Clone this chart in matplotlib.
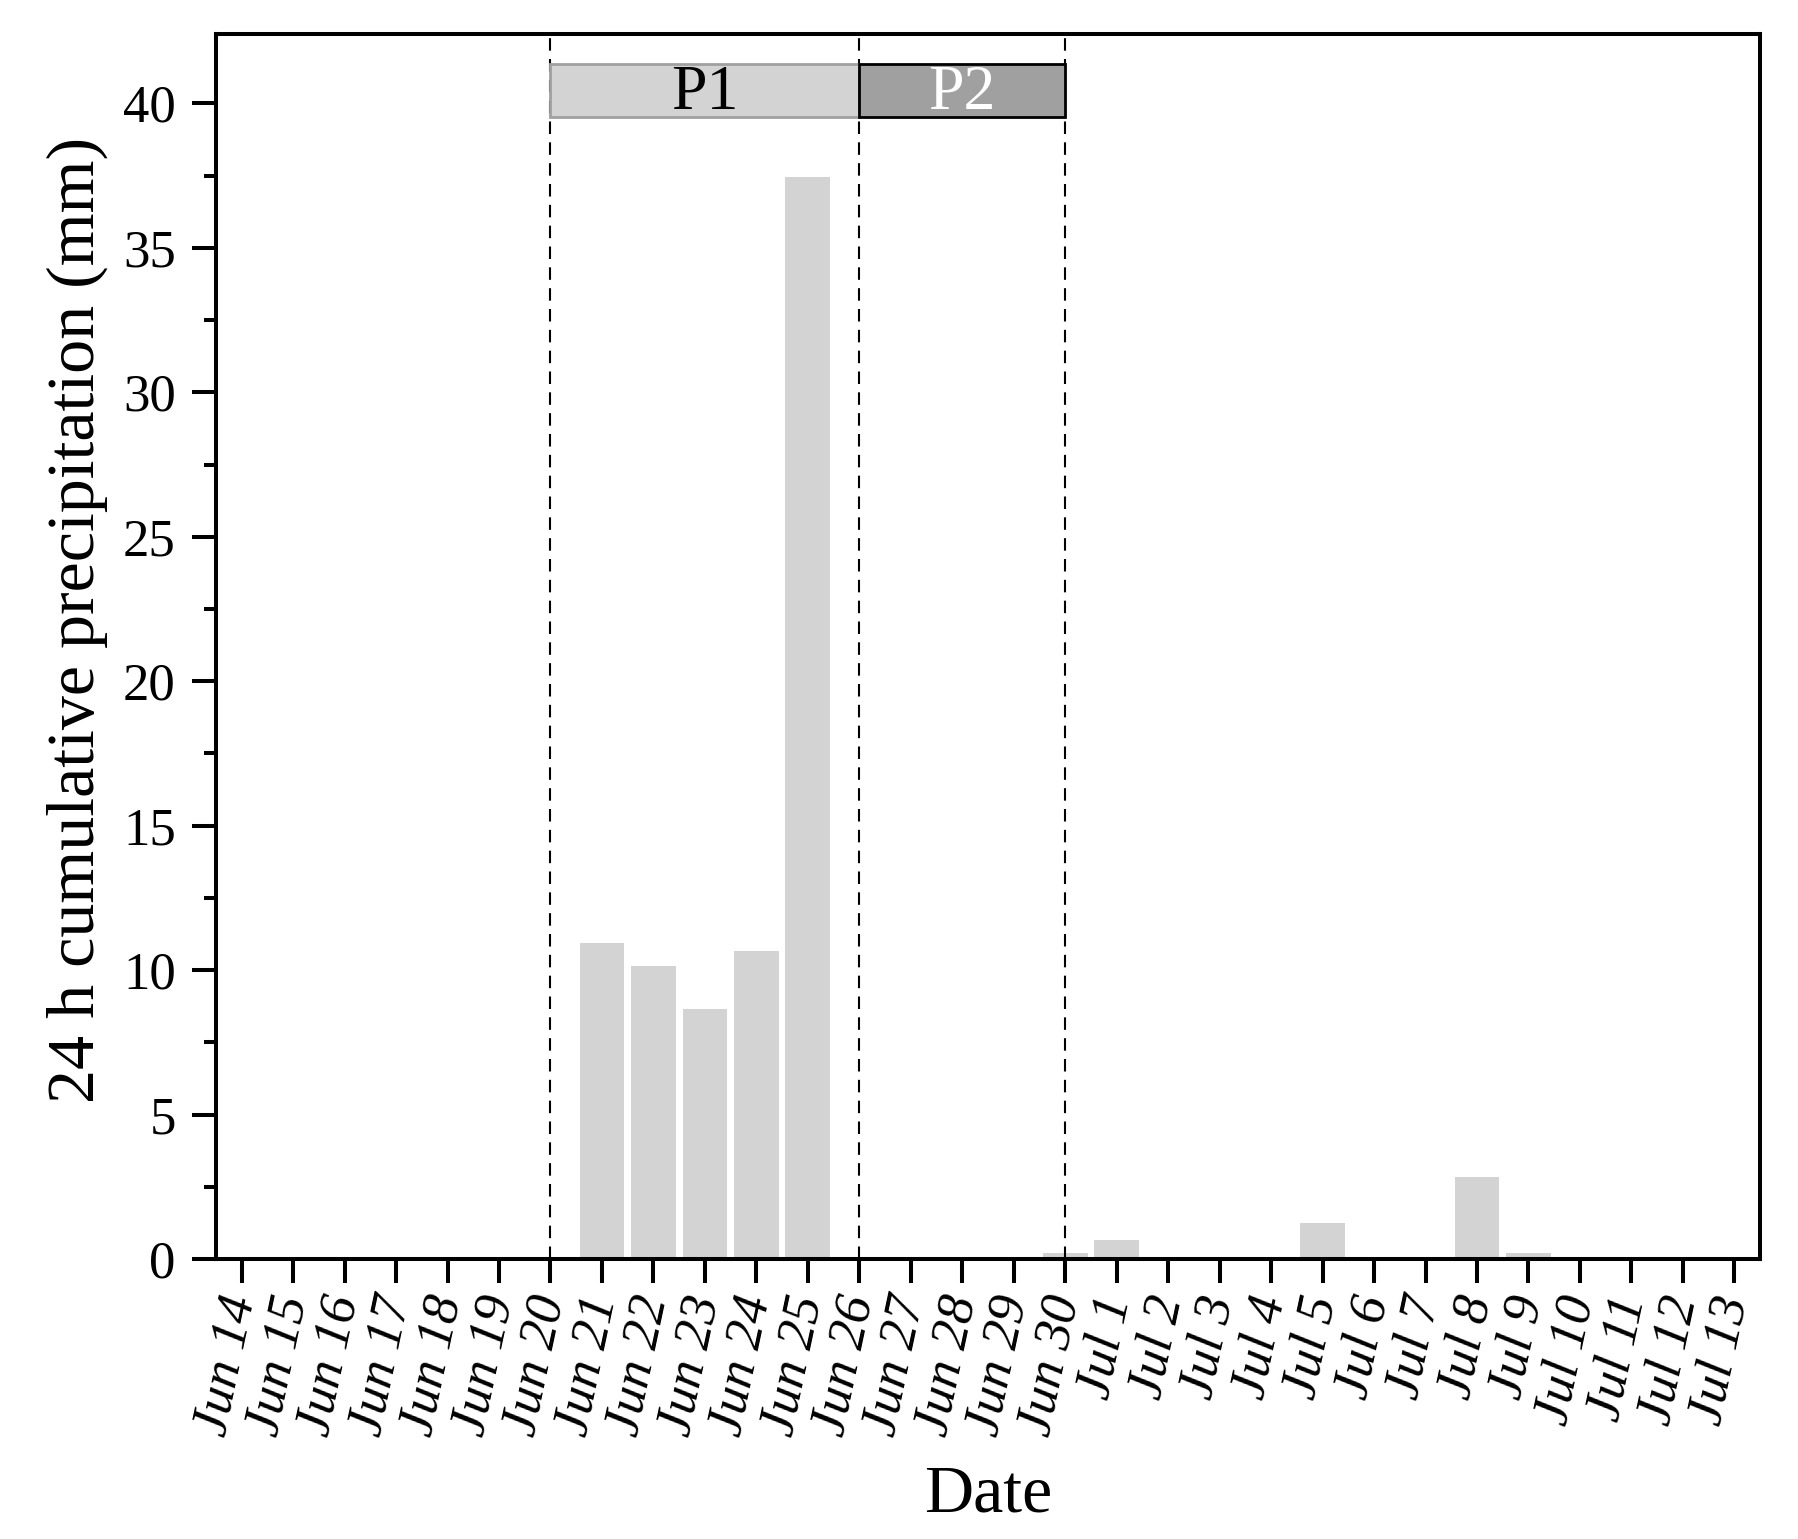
import matplotlib
matplotlib.use("Agg")
import matplotlib.pyplot as plt
from matplotlib.ticker import MultipleLocator
from matplotlib.patches import Rectangle

dates = ["Jun 14", "Jun 15", "Jun 16", "Jun 17", "Jun 18", "Jun 19", "Jun 20",
         "Jun 21", "Jun 22", "Jun 23", "Jun 24", "Jun 25", "Jun 26", "Jun 27",
         "Jun 28", "Jun 29", "Jun 30", "Jul 1", "Jul 2", "Jul 3", "Jul 4",
         "Jul 5", "Jul 6", "Jul 7", "Jul 8", "Jul 9", "Jul 10", "Jul 11",
         "Jul 12", "Jul 13"]
precip = [0, 0, 0, 0, 0, 0, 0,
          10.95, 10.15, 8.65, 10.65, 37.45, 0, 0,
          0, 0, 0.2, 0.65, 0, 0, 0,
          1.25, 0, 0, 2.85, 0.2, 0, 0,
          0, 0]
period_names = ["P1", "P2"]
period_bounds = [("Jun 20", "Jun 26"), ("Jun 26", "Jun 30")]
period_fill = ["#d3d3d3", "#a0a0a0"]
period_edge = ["#a0a0a0", "#000000"]
period_text = ["black", "white"]

plt.rcParams['font.family'] = ['Liberation Serif', 'DejaVu Serif']
plt.rcParams['mathtext.fontset'] = 'stix'

fig = plt.figure(figsize=(17.98, 15.39), dpi=100)
ax = fig.add_axes([0.1201, 0.1819, 0.9789 - 0.1201, 0.9779 - 0.1819])

x = list(range(len(dates)))
ax.bar(x, precip, width=0.87, color="#d3d3d3", edgecolor="none", zorder=2)

ax.set_xlim(-0.5, len(dates) - 0.5)
ax.set_ylim(0, 42.4)

# dashed period boundaries
idx = {d: i for i, d in enumerate(dates)}
for d in ["Jun 20", "Jun 26", "Jun 30"]:
    ax.axvline(idx[d], ymin=0, ymax=1, color="black", lw=1.5,
               linestyle=(0, (6, 4)), zorder=3)

# period boxes
y0, y1 = 39.52, 41.35
for name, (a, b), fc, ec, tc in zip(period_names, period_bounds, period_fill,
                                     period_edge, period_text):
    x0, x1 = idx[a], idx[b]
    ax.add_patch(Rectangle((x0, y0), x1 - x0, y1 - y0, facecolor=fc,
                           edgecolor=ec, lw=2, zorder=4))
    ax.text((x0 + x1) / 2, (y0 + y1) / 2 - 0.1, name, ha="center",
            va="center", fontsize=46, color=tc, zorder=5)

ax.yaxis.set_major_locator(MultipleLocator(5))
ax.yaxis.set_minor_locator(MultipleLocator(2.5))
ax.set_xticks(x)
ax.set_xticklabels(dates, rotation=78, ha="right", va="center",
                   rotation_mode="anchor", fontstyle="italic", fontsize=38)
for lbl in ax.get_yticklabels():
    lbl.set_fontsize(38)

ax.tick_params(axis="both", which="major", direction="out", length=17,
               width=2.9, top=False, right=False)
ax.tick_params(axis="y", which="minor", direction="out", length=9, width=2.9)
ax.tick_params(axis="x", which="major", pad=10)
ax.tick_params(axis="y", which="major", labelsize=38, pad=12)

for s in ax.spines.values():
    s.set_linewidth(2.9)

ax.set_ylabel("24 h cumulative precipitation (mm)", fontsize=49)
ax.yaxis.set_label_coords(-0.070, 0.522)
ax.set_xlabel("Date", fontsize=49)
ax.xaxis.set_label_coords(0.5, -0.168)

fig.savefig("out.png", dpi=100)
